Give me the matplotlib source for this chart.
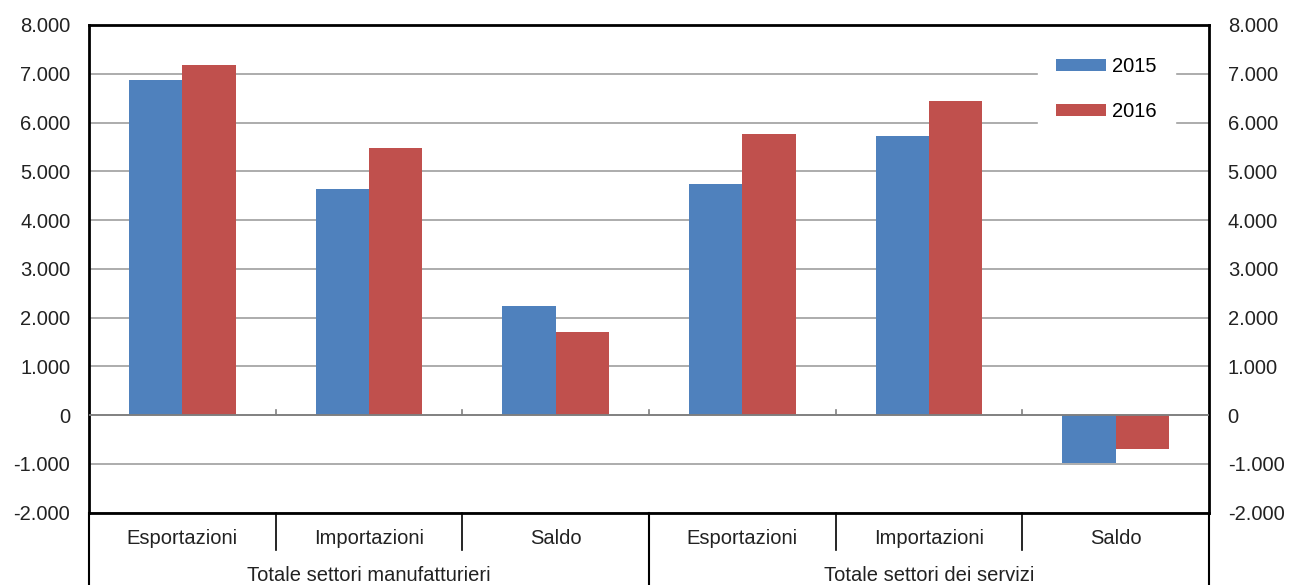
import matplotlib
matplotlib.use("Agg")
import matplotlib.pyplot as plt
from matplotlib.ticker import FuncFormatter
import numpy as np

categories = ["Esportazioni", "Importazioni", "Saldo", "Esportazioni", "Importazioni", "Saldo"]
groups = ["Totale settori manufatturieri", "Totale settori dei servizi"]
series_names = ["2015", "2016"]
values_2015 = [6880, 4640, 2245, 4740, 5715, -990]
values_2016 = [7190, 5485, 1715, 5775, 6450, -695]
colors = ["#4F81BD", "#C0504D"]
yticks = list(range(-2000, 8001, 1000))

plt.rcParams['font.family'] = ['Liberation Sans', 'DejaVu Sans']

fig = plt.figure(figsize=(12.9, 5.85), dpi=100)
ax = fig.add_axes([89/1290, 1-512.7/585, 1120/1290, 487.7/585])

n = len(categories)
x = np.arange(n)
w = 0.285
ax.bar(x - w/2, values_2015, w, color=colors[0], label=series_names[0], zorder=3)
ax.bar(x + w/2, values_2016, w, color=colors[1], label=series_names[1], zorder=3)

ax.set_xlim(-0.5, n - 0.5)
ax.set_ylim(-2000, 8000)
ax.set_yticks(yticks)
fmt = FuncFormatter(lambda v, p: f"{int(v):,}".replace(",", "."))
ax.yaxis.set_major_formatter(fmt)
ax.tick_params(axis='y', left=False, right=False, labelleft=True, labelright=True,
               labelsize=14.5, pad=10, labelcolor='#222222')
ax.set_xticks([])
ax.grid(axis='y', color='#a6a6a6', linewidth=1.3, zorder=0)
ax.axhline(0, color='#7f7f7f', linewidth=1.3, zorder=4)
for s in ax.spines.values():
    s.set_linewidth(2)
    s.set_color('black')

# small ticks on zero line at category boundaries
for b in np.arange(0.5, n - 0.5, 1.0):
    ax.plot([b, b], [0, 110], color='#7f7f7f', linewidth=1.2, zorder=4)

# category label table below
trans = ax.get_xaxis_transform()
for i, c in enumerate(categories):
    ax.text(i, -0.052, c, transform=trans, ha='center', va='center',
            fontsize=14.5, color='#222222', clip_on=False)
for b in np.arange(0.5, n - 0.5, 1.0):
    if abs(b - 2.5) < 1e-6:
        continue
    ax.plot([b, b], [0, -0.076], transform=trans, color='black', linewidth=1.2, clip_on=False)
for b in [-0.5, 2.5, n - 0.5]:
    ax.plot([b, b], [0, -0.2], transform=trans, color='black', linewidth=1.5, clip_on=False)
for g, gx in enumerate([1, 4]):
    ax.text(gx, -0.128, groups[g], transform=trans, ha='center', va='center',
            fontsize=14.5, color='#222222', clip_on=False)

leg = ax.legend(loc='upper left', bbox_to_anchor=(0.847, 0.972), frameon=True,
                fontsize=14.5, handlelength=2.5, handleheight=0.55, handletextpad=0.3,
                labelspacing=1.3, borderpad=0.9, borderaxespad=0, fancybox=False,
                framealpha=1)
leg.get_frame().set_facecolor('white')
leg.get_frame().set_edgecolor('white')
leg.set_zorder(5)

fig.savefig("out.png", dpi=100, facecolor='white')
